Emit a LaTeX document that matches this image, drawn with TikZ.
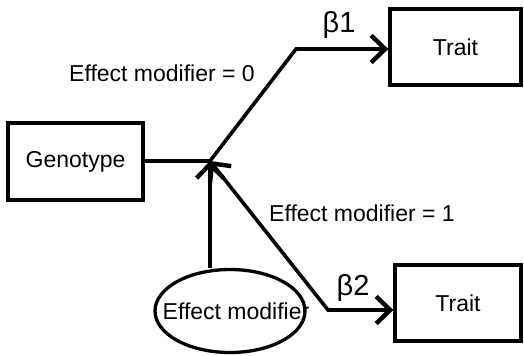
\documentclass[tikz,border=0pt]{standalone}
\usepackage{fontspec}
\setmainfont{Liberation Sans}
\usetikzlibrary{arrows.meta,shapes.geometric}
\tikzset{
	box/.style={draw, line width=1.65pt, inner sep=0pt, font=\fontsize{11.5}{14}\selectfont},
	barb/.tip={Straight Barb[length=7pt, width=13.5pt, line width=2.2pt]},
	pathway/.style={line width=1.8pt, line join=miter, -barb},
	lbl/.style={font=\fontsize{11.5}{14}\selectfont, inner sep=0pt},
	beta/.style={font=\fontsize{14.5}{17}\selectfont, inner sep=0pt}
}

\begin{document}
\begin{tikzpicture}[x=0.5pt, y=-0.5pt]
		%%%%% START %%%%%
		\useasboundingbox (0, 0) rectangle (524, 355);
		
		\node[box, minimum width=67.5pt, minimum height=38.5pt] (geno) at (75.5, 161.5) {Genotype};
		\node[box, minimum width=65.5pt, minimum height=38pt] (traitA) at (455.5, 47) {Trait};
		\node[box, minimum width=63pt, minimum height=38pt] (traitB) at (458, 303) {Trait};
		\node[ellipse, draw, line width=1.65pt, minimum width=75pt, minimum height=41.5pt, inner sep=0pt,
			label={[lbl, xshift=3pt]center:Effect modifier}] (modifier) at (230, 311) {};
		
		\coordinate (junction) at (210, 161);
		\coordinate (bendA) at (296, 49);
		\coordinate (bendB) at (328, 310);
		
		\draw[line width=1.6pt] (geno.east |- junction) -- (junction);
		\draw[pathway] (junction) -- (bendA) -- (bendA -| traitA.west);
		\draw[pathway] (junction |- modifier.north) -- (junction);
		\draw[pathway, barb-barb] (junction) -- (bendB) -- (bendB -| traitB.west);
		
		\node[lbl] (zero) at (162, 73) {Effect modifier = 0};
		\node[lbl] (one) at (362, 213) {Effect modifier = 1};
		\node[beta] (betaA) at (339, 25) {β1};
		\node[beta] (betaB) at (353, 288) {β2};
		
		%%%%% END %%%%%
	\end{tikzpicture}
\end{document}
